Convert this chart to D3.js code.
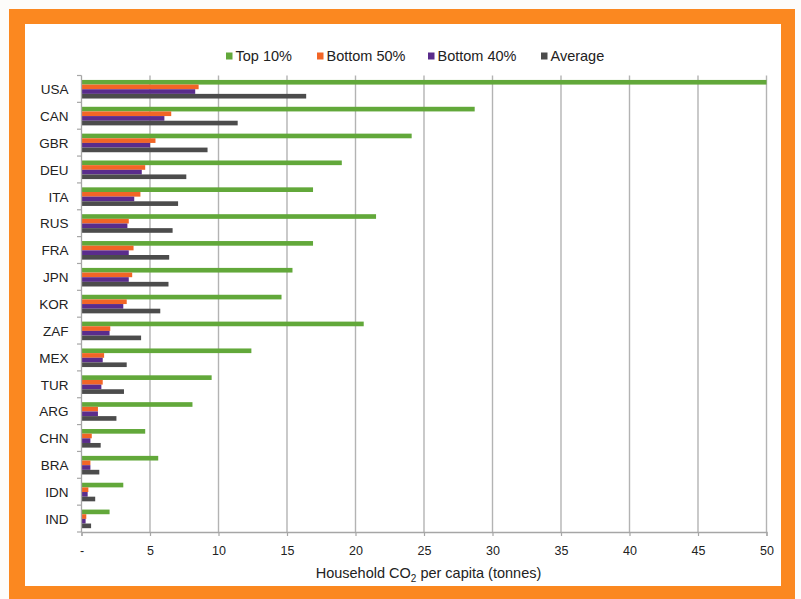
<!DOCTYPE html>
<html>
<head>
<meta charset="utf-8">
<script src="https://cdn.jsdelivr.net/npm/d3@7"></script>
<style>
  html, body { margin: 0; padding: 0; background: #fdfcfa; }
  svg { display: block; font-family: "Liberation Sans", Arial, sans-serif; }
</style>
</head>
<body>
<svg id="chart" width="801" height="599"></svg>
<script>
// Household CO2 per capita (tonnes) by income group
const countries = ["USA", "CAN", "GBR", "DEU", "ITA", "RUS", "FRA", "JPN", "KOR", "ZAF", "MEX", "TUR", "ARG", "CHN", "BRA", "IDN", "IND"];
const top10    = [50, 28.7, 24.1, 19.0, 16.9, 21.5, 16.9, 15.4, 14.6, 20.6, 12.4, 9.5, 8.1, 4.65, 5.6, 3.05, 2.05];
const bottom50 = [8.55, 6.55, 5.4, 4.65, 4.3, 3.45, 3.8, 3.7, 3.3, 2.1, 1.65, 1.55, 1.2, 0.75, 0.65, 0.5, 0.35];
const bottom40 = [8.3, 6.05, 5.0, 4.4, 3.85, 3.35, 3.45, 3.45, 3.05, 2.05, 1.55, 1.45, 1.2, 0.65, 0.65, 0.45, 0.3];
const average  = [16.4, 11.4, 9.2, 7.65, 7.05, 6.65, 6.4, 6.35, 5.75, 4.35, 3.3, 3.1, 2.55, 1.4, 1.3, 1.0, 0.7];
const seriesNames = ["Top 10%", "Bottom 50%", "Bottom 40%", "Average"];
const xTicks = [0, 5, 10, 15, 20, 25, 30, 35, 40, 45, 50];

const seriesColors = ["#62a83a", "#f26526", "#5a2c8c", "#4c4c4c"];
const seriesValues = [top10, bottom50, bottom40, average];

const svg = d3.select("#chart");

// frame
svg.append("rect").attr("x", 9).attr("y", 9).attr("width", 786).attr("height", 590).attr("fill", "#fb8820");
svg.append("rect").attr("x", 25).attr("y", 24).attr("width", 756).attr("height", 562).attr("fill", "#ffffff");

const x = d3.scaleLinear().domain([0, 50]).range([81.5, 766.5]);
const y = d3.scaleBand().domain(countries).range([75.5, 532]).paddingInner(0).paddingOuter(0);
const step = y.bandwidth();
const inner = d3.scaleBand().domain(seriesNames).range([step * 0.165, step * 0.165 + 18.6]).padding(0);

// vertical gridlines
svg.append("g").selectAll("line")
  .data(xTicks.filter(d => d > 0))
  .join("line")
  .attr("x1", d => x(d)).attr("x2", d => x(d))
  .attr("y1", 75.5).attr("y2", 532)
  .attr("stroke", "#b3b3b3").attr("stroke-width", 1.4);

// bars
const rows = svg.append("g").selectAll("g")
  .data(countries.map((c, i) => ({ c, i })))
  .join("g")
  .attr("transform", d => `translate(0,${y(d.c)})`);

rows.selectAll("rect")
  .data(d => seriesNames.map((s, k) => ({ s, k, v: seriesValues[k][d.i] })))
  .join("rect")
  .attr("x", x(0))
  .attr("y", d => inner(d.s))
  .attr("width", d => x(d.v) - x(0))
  .attr("height", inner.bandwidth())
  .attr("fill", d => seriesColors[d.k]);

// y axis: category labels with ticks on band boundaries
const yAxisG = svg.append("g");
yAxisG.append("line")
  .attr("x1", x(0)).attr("x2", x(0)).attr("y1", 75.5).attr("y2", 532)
  .attr("stroke", "#a6a6a6").attr("stroke-width", 1.3);
yAxisG.selectAll("line.tick")
  .data(countries.concat(["__end"]))
  .join("line")
  .attr("class", "tick")
  .attr("x1", x(0) - 4.5).attr("x2", x(0))
  .attr("y1", (d, i) => 75.5 + i * step).attr("y2", (d, i) => 75.5 + i * step)
  .attr("stroke", "#a6a6a6").attr("stroke-width", 1.2);
yAxisG.selectAll("text")
  .data(countries)
  .join("text")
  .attr("x", 68.5)
  .attr("y", d => y(d) + step / 2 + 0.5)
  .attr("dy", "0.35em")
  .attr("text-anchor", "end")
  .attr("font-size", "13.5px")
  .attr("fill", "#222")
  .text(d => d);

// x axis
const xAxis = d3.axisBottom(x)
  .tickValues(xTicks)
  .tickSize(4)
  .tickPadding(10)
  .tickFormat(d => d === 0 ? "-" : d);
const xg = svg.append("g").attr("transform", "translate(0,532)").call(xAxis);
xg.select(".domain").attr("stroke", "#a6a6a6").attr("stroke-width", 1.3);
xg.selectAll(".tick line").attr("stroke", "#a6a6a6").attr("stroke-width", 1.2);
xg.selectAll(".tick text").attr("font-size", "12.5px").attr("fill", "#222")
  .attr("font-family", "'Liberation Sans', Arial, sans-serif");

// x axis title with subscript
const title = svg.append("text")
  .attr("x", 428.5).attr("y", 578)
  .attr("text-anchor", "middle")
  .attr("font-size", "14.5px")
  .attr("fill", "#222");
title.append("tspan").text("Household CO");
title.append("tspan").attr("font-size", "10px").attr("dy", 4).text("2");
title.append("tspan").attr("dy", -4).text(" per capita (tonnes)");

// legend
const legendX = [226, 317, 428, 541];
const legend = svg.append("g").selectAll("g")
  .data(seriesNames)
  .join("g")
  .attr("transform", (d, i) => `translate(${legendX[i]},56)`);
legend.append("rect")
  .attr("x", 0).attr("y", -3.5).attr("width", 6.5).attr("height", 7)
  .attr("fill", (d, i) => seriesColors[i]);
legend.append("text")
  .attr("x", 9.5).attr("y", 0).attr("dy", "0.36em")
  .attr("font-size", "14.5px").attr("fill", "#222")
  .text(d => d);
</script>
</body>
</html>
